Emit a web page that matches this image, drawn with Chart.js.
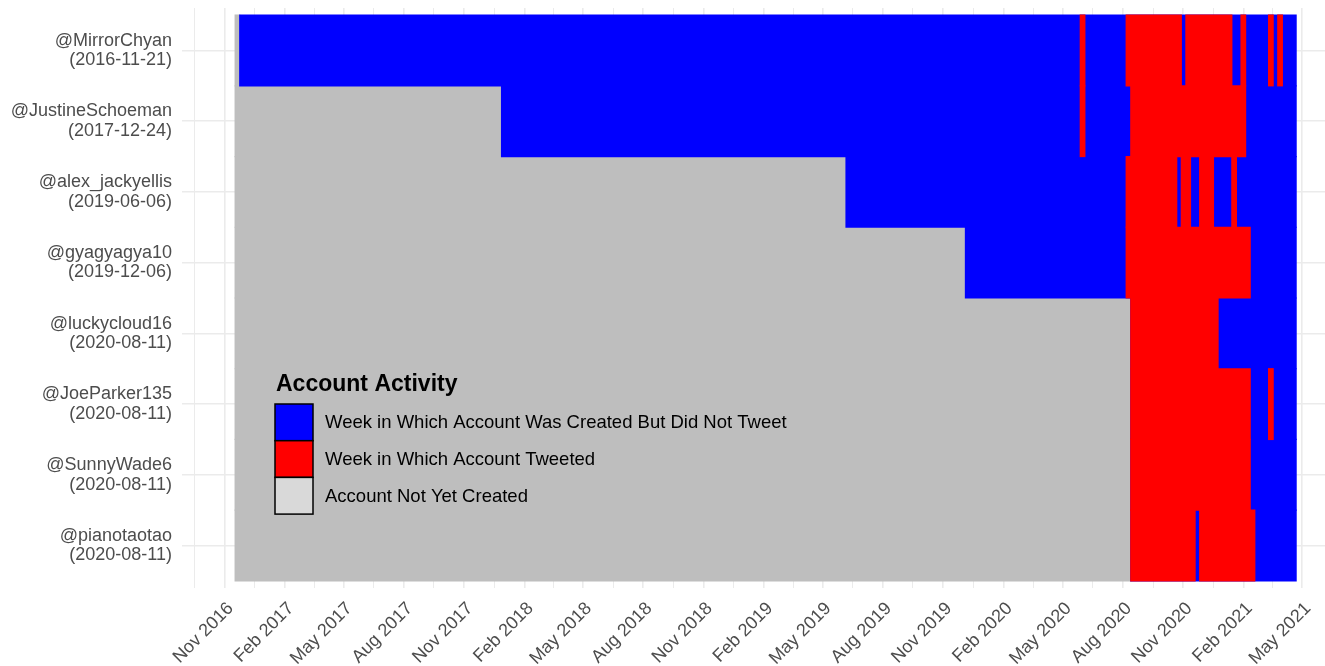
<!DOCTYPE html>
<html>
<head>
<meta charset="utf-8">
<title>Account Activity</title>
<script src="https://cdn.jsdelivr.net/npm/chart.js@4.4.1/dist/chart.umd.min.js"></script>
<style>
  html, body { margin: 0; padding: 0; background: #ffffff; }
  canvas { display: block; }
</style>
</head>
<body>
<canvas id="activityChart" width="1325" height="666"></canvas>
<script>
"use strict";

// accounts, top to bottom
const accounts = ["@MirrorChyan", "@JustineSchoeman", "@alex_jackyellis", "@gyagyagya10",
  "@luckycloud16", "@JoeParker135", "@SunnyWade6", "@pianotaotao"];
const createdOn = ["2016-11-21", "2017-12-24", "2019-06-06", "2019-12-06",
  "2020-08-11", "2020-08-11", "2020-08-11", "2020-08-11"];

// week edges (weeks run Thursday to Thursday around the Monday they stand for)
const timelineStart = "2016-11-17";
const timelineEnd = "2021-04-22";
const activeFrom = ["2016-11-24", "2017-12-28", "2019-06-06", "2019-12-05",
  "2020-08-13", "2020-08-13", "2020-08-13", "2020-08-13"];

// weeks in which each account tweeted [from, to]
const tweetSpans = [
  [["2020-05-28", "2020-06-04"], ["2020-08-06", "2020-10-29"], ["2020-11-05", "2021-01-14"],
   ["2021-01-28", "2021-02-04"], ["2021-03-11", "2021-03-18"], ["2021-03-25", "2021-04-01"]],
  [["2020-05-28", "2020-06-04"], ["2020-08-13", "2021-02-04"]],
  [["2020-08-06", "2020-10-22"], ["2020-10-29", "2020-11-12"], ["2020-11-26", "2020-12-17"],
   ["2021-01-14", "2021-01-21"]],
  [["2020-08-06", "2021-02-11"]],
  [["2020-08-13", "2020-12-24"]],
  [["2020-08-13", "2021-02-11"], ["2021-03-11", "2021-03-18"]],
  [["2020-08-13", "2021-02-11"]],
  [["2020-08-13", "2020-11-19"], ["2020-11-26", "2021-02-18"]]
];

// x axis ticks
const tickLabels = ["Nov 2016", "Feb 2017", "May 2017", "Aug 2017", "Nov 2017", "Feb 2018",
  "May 2018", "Aug 2018", "Nov 2018", "Feb 2019", "May 2019", "Aug 2019", "Nov 2019",
  "Feb 2020", "May 2020", "Aug 2020", "Nov 2020", "Feb 2021", "May 2021"];
const tickDates = ["2016-11-01", "2017-02-01", "2017-05-01", "2017-08-01", "2017-11-01", "2018-02-01",
  "2018-05-01", "2018-08-01", "2018-11-01", "2019-02-01", "2019-05-01", "2019-08-01", "2019-11-01",
  "2020-02-01", "2020-05-01", "2020-08-01", "2020-11-01", "2021-02-01", "2021-05-01"];
const axisFrom = "2016-08-28";
const axisTo = "2021-06-05";

const legendTitle = "Account Activity";
const legendLabels = ["Week in Which Account Was Created But Did Not Tweet",
  "Week in Which Account Tweeted", "Account Not Yet Created"];

const BLUE = "#0000FF";
const RED = "#FF0000";
const GREY = "#BEBEBE";
const legendColors = [BLUE, RED, "#D9D9D9"];

function toMs(s) {
  return Date.parse(s);
}

// build bar data
const greyBars = [];
const blueBars = [];
const redBars = [];
for (let i = 0; i < accounts.length; i++) {
  greyBars.push({ x: [toMs(timelineStart), toMs(activeFrom[i])], y: i + 1 });
  blueBars.push({ x: [toMs(activeFrom[i]), toMs(timelineEnd)], y: i + 1 });
  for (let j = 0; j < tweetSpans[i].length; j++) {
    redBars.push({ x: [toMs(tweetSpans[i][j][0]), toMs(tweetSpans[i][j][1])], y: i + 1 });
  }
}

// major ticks + minor ones half way between
const majorValues = tickDates.map(toMs);
const xTicks = [];
const step0 = majorValues[1] - majorValues[0];
let prev = majorValues[0] - step0;
for (let i = 0; i < majorValues.length; i++) {
  const mid = (prev + majorValues[i]) / 2;
  if (mid >= toMs(axisFrom)) xTicks.push({ value: mid, major: false });
  xTicks.push({ value: majorValues[i], major: true });
  prev = majorValues[i];
}

const FONT = "'Liberation Sans', Arial, sans-serif";

const legendPlugin = {
  id: "activityLegend",
  afterDraw(chart) {
    const ctx = chart.ctx;
    ctx.save();
    ctx.fillStyle = "#000000";
    ctx.textAlign = "left";
    ctx.textBaseline = "alphabetic";
    ctx.font = "bold 23px " + FONT;
    ctx.fillText(legendTitle, 276, 391);
    const keyX = 275;
    const keyW = 38;
    const keyH = 36.7;
    const keyTop = 404;
    ctx.font = "18.5px " + FONT;
    ctx.textBaseline = "middle";
    for (let i = 0; i < legendLabels.length; i++) {
      const y = keyTop + i * keyH;
      ctx.fillStyle = legendColors[i];
      ctx.fillRect(keyX, y, keyW, keyH);
      ctx.strokeStyle = "#000000";
      ctx.lineWidth = 1.5;
      ctx.strokeRect(keyX, y, keyW, keyH);
      ctx.fillStyle = "#000000";
      ctx.fillText(legendLabels[i], 325, y + keyH / 2 + 1);
    }
    ctx.restore();
  }
};

const barCommon = {
  barPercentage: 1,
  categoryPercentage: 1,
  grouped: false,
  borderWidth: 0,
  inflateAmount: 0.6
};

new Chart(document.getElementById("activityChart"), {
  type: "bar",
  data: {
    datasets: [
      Object.assign({ label: legendLabels[1], data: redBars, backgroundColor: RED, order: 0 }, barCommon),
      Object.assign({ label: legendLabels[0], data: blueBars, backgroundColor: BLUE, order: 1 }, barCommon),
      Object.assign({ label: legendLabels[2], data: greyBars, backgroundColor: GREY, order: 2 }, barCommon)
    ]
  },
  options: {
    indexAxis: "y",
    responsive: false,
    animation: false,
    devicePixelRatio: 1,
    layout: { padding: { top: 8, right: 0, left: 0, bottom: 0 } },
    plugins: {
      legend: { display: false },
      tooltip: { enabled: false }
    },
    scales: {
      x: {
        type: "linear",
        min: toMs(axisFrom),
        max: toMs(axisTo),
        bounds: "data",
        border: { display: false },
        grid: {
          color: "#EBEBEB",
          lineWidth: (c) => (c.tick && c.tick.major ? 1.6 : 1),
          drawTicks: false
        },
        ticks: {
          autoSkip: false,
          maxRotation: 45,
          minRotation: 45,
          padding: 10,
          labelOffset: 6,
          color: "#4D4D4D",
          font: { family: FONT, size: 18 },
          callback: function (value) {
            const idx = majorValues.indexOf(value);
            return idx >= 0 ? tickLabels[idx] : "";
          }
        },
        afterBuildTicks: function (scale) {
          scale.ticks = xTicks.map((t) => ({ value: t.value, major: t.major }));
        },
        afterFit: function (scale) {
          scale.height = 78;
          scale.paddingLeft = 0;
          scale.paddingRight = 0;
        }
      },
      y: {
        type: "linear",
        reverse: true,
        offset: false,
        min: 0.4,
        max: 8.6,
        bounds: "data",
        border: { display: false },
        grid: { color: "#EBEBEB", lineWidth: 1.6, drawTicks: false, offset: false },
        ticks: {
          padding: 10,
          color: "#4D4D4D",
          font: { family: FONT, size: 18, lineHeight: 1.08 },
          callback: function (value, index) {
            return [accounts[index], "(" + createdOn[index] + ")"];
          }
        },
        afterBuildTicks: function (scale) {
          scale.ticks = accounts.map((a, i) => ({ value: i + 1 }));
        },
        afterFit: function (scale) {
          scale.width = 182;
          scale.paddingTop = 0;
          scale.paddingBottom = 0;
        }
      }
    }
  },
  plugins: [legendPlugin]
});
</script>
</body>
</html>
